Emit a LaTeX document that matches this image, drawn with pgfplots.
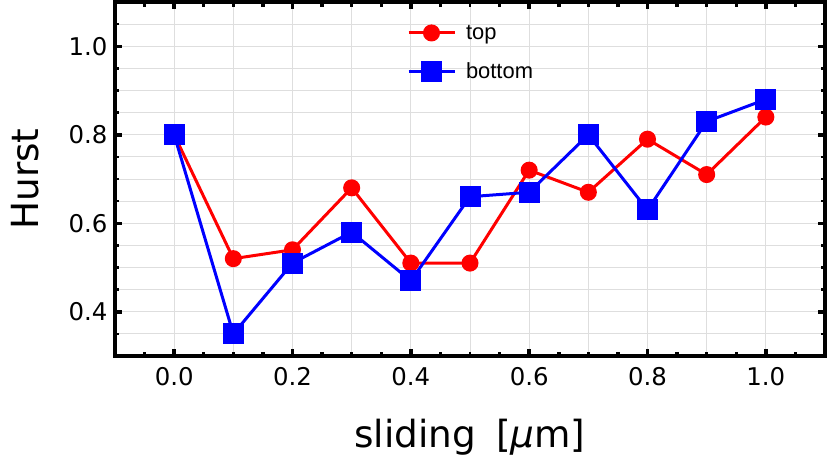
\documentclass[border=0pt]{standalone}
\usepackage{pgfplots}
\pgfplotsset{compat=1.18}
\usepackage{fontspec}
\setmainfont{DejaVu Sans}
\newfontfamily\legfont{Liberation Sans}
\definecolor{gridc}{RGB}{222,222,222}
\begin{document}
\begin{tikzpicture}
\begin{axis}[
  at={(0,0)}, anchor=south west,
  scale only axis, width=710bp, height=354bp,
  xmin=-0.1, xmax=1.1, ymin=0.3, ymax=1.1,
  axis line style={line width=4.5bp},
  xtick={0,0.2,0.4,0.6,0.8,1.0},
  ytick={0.4,0.6,0.8,1.0},
  minor xtick={-0.1,0.1,0.3,0.5,0.7,0.9,1.1},
  minor ytick={0.3,0.35,0.45,0.5,0.55,0.65,0.7,0.75,0.85,0.9,0.95,1.05,1.1},
  extra x ticks={-0.05,0.05,0.15,0.25,0.35,0.45,0.55,0.65,0.75,0.85,0.95,1.05},
  extra x tick labels={},
  extra x tick style={grid=none, major tick length=4.5bp, every tick/.style={line width=2.5bp, black}},
  /pgf/number format/fixed,
  /pgf/number format/fixed zerofill,
  /pgf/number format/precision=1,
  /pgf/number format/assume math mode=true,
  tick label style={font=\fontsize{24.5}{28}\selectfont},
  xticklabel style={yshift=-8bp},
  yticklabel style={xshift=-4bp},
  tick align=inside, tick pos=both,
  major tick length=7bp, minor tick length=4.5bp,
  major tick style={line width=3.5bp, black},
  minor tick style={line width=2.5bp, black},
  grid=both,
  major grid style={gridc, line width=0.8bp},
  minor grid style={gridc, line width=0.8bp},
  xlabel={sliding\hspace{20bp}[{\itshape μ}m]},
  ylabel={Hurst},
  label style={font=\fontsize{37.5}{42}\selectfont},
  xlabel style={at={(rel axis cs:0.5,0)}, anchor=center, yshift=-81bp},
  ylabel style={at={(rel axis cs:0,0.5)}, anchor=center, yshift=90bp},
  legend style={at={(rel axis cs:0.411,0.857)}, anchor=west, draw=none, fill=none,
    font=\legfont\fontsize{22}{26}\selectfont, row sep=18bp, inner sep=0pt,
    nodes={inner sep=2bp}},
  legend cell align=left,
  legend image code/.code={\draw[mark repeat=2,mark phase=2,#1] plot coordinates {(0bp,0bp)(23bp,0bp)(46bp,0bp)};},
]
\addplot[red, line width=3bp, mark=*, mark size=7bp, mark options={solid, fill=red, draw=red}] coordinates {
(0.0,0.80) (0.1,0.52) (0.2,0.54) (0.3,0.68) (0.4,0.51) (0.5,0.51)
(0.6,0.72) (0.7,0.67) (0.8,0.79) (0.9,0.71) (1.0,0.84)};
\addlegendentry{\hspace{8bp}top}
\addplot[blue, line width=3bp, mark=square*, mark size=9bp, mark options={solid, fill=blue, draw=blue}] coordinates {
(0.0,0.80) (0.1,0.35) (0.2,0.51) (0.3,0.58) (0.4,0.47) (0.5,0.66)
(0.6,0.67) (0.7,0.80) (0.8,0.63) (0.9,0.83) (1.0,0.88)};
\addlegendentry{\hspace{8bp}bottom}
\end{axis}
\pgfresetboundingbox
\path (-115bp,-110bp) rectangle (715bp,356bp);
\end{tikzpicture}
\end{document}
